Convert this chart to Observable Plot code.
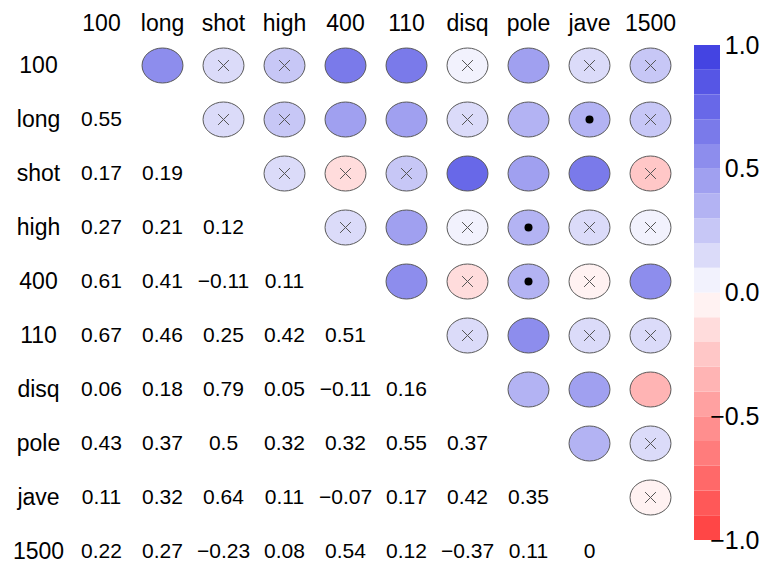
<!DOCTYPE html>
<html>
<head>
<meta charset="utf-8">
<script src="https://cdn.jsdelivr.net/npm/d3@7"></script>
<script src="https://cdn.jsdelivr.net/npm/@observablehq/plot@0.6"></script>
<style>
  body { margin: 0; background: #fff; }
  #chart { position: relative; width: 763px; height: 564px; }
  #chart svg { position: absolute; left: 0; top: 0; }
</style>
</head>
<body>
<div id="chart"></div>
<script>
// Decathlon events
const vars = ["100", "long", "shot", "high", "400", "110", "disq", "pole", "jave", "1500"];

// Correlations, lower triangle, row by row (row i holds its i values left of the diagonal)
const corrRows = [
  [],
  [0.55],
  [0.17, 0.19],
  [0.27, 0.21, 0.12],
  [0.61, 0.41, -0.11, 0.11],
  [0.67, 0.46, 0.25, 0.42, 0.51],
  [0.06, 0.18, 0.79, 0.05, -0.11, 0.16],
  [0.43, 0.37, 0.5, 0.32, 0.32, 0.55, 0.37],
  [0.11, 0.32, 0.64, 0.11, -0.07, 0.17, 0.42, 0.35],
  [0.22, 0.27, -0.23, 0.08, 0.54, 0.12, -0.37, 0.11, 0]
];

// Upper-triangle cells flagged as not significant
const insignificant = [
  ["100", "shot"], ["100", "high"], ["100", "disq"], ["100", "jave"], ["100", "1500"],
  ["long", "shot"], ["long", "high"], ["long", "disq"], ["long", "1500"],
  ["shot", "high"], ["shot", "400"], ["shot", "110"], ["shot", "1500"],
  ["high", "400"], ["high", "disq"], ["high", "jave"], ["high", "1500"],
  ["400", "disq"], ["400", "jave"],
  ["110", "disq"], ["110", "jave"], ["110", "1500"],
  ["pole", "1500"],
  ["jave", "1500"]
];

// Upper-triangle cells marked with a dot
const marked = [["long", "jave"], ["high", "pole"], ["400", "pole"]];

// Colour bar tick labels
const legendTicks = [1, 0.5, 0, -0.5, -1];

// 20-step red–white–blue palette, one colour per 0.1 interval of r
const nBins = 20;
const redEnd = "rgb(255,70,70)", blueEnd = "rgb(68,68,226)";
const palette = d3.range(nBins).map(k => {
  const t = k / (nBins - 1);
  const f = Math.abs(t - 0.5) / 0.5;          // distance from white
  return d3.interpolateRgb("white", t < 0.5 ? redEnd : blueEnd)(Math.pow(f, 0.9));
});
// interval (a, b] → palette index
const binOf = v => Math.max(0, Math.ceil((v + 1) * 10 - 1e-9) - 1);
const colorScale = {type: "ordinal", domain: d3.range(nBins), range: palette};

const fmt = v => String(v).replace("-", "\u2212");
const fmt1 = v => d3.format(".1f")(v).replace("-", "\u2212");

const corr = (a, b) => {
  const i = vars.indexOf(a), j = vars.indexOf(b);
  return i > j ? corrRows[i][j] : corrRows[j][i];
};

const upper = [], lower = [];
vars.forEach((rv, i) => vars.forEach((cv, j) => {
  if (j > i) upper.push({row: rv, col: cv, value: corr(rv, cv)});
  if (j < i) lower.push({row: rv, col: cv, value: corr(rv, cv)});
}));
const crossCells = insignificant.map(([row, col]) => ({row, col}));
const dotCells = marked.map(([row, col]) => ({row, col}));

// ellipse symbol: slightly wider than tall
const ellipse = {
  draw(ctx, size) {
    const ry = Math.sqrt(size / Math.PI), rx = ry * 1.17, k = 0.5523;
    ctx.moveTo(rx, 0);
    ctx.bezierCurveTo(rx, ry * k, rx * k, ry, 0, ry);
    ctx.bezierCurveTo(-rx * k, ry, -rx, ry * k, -rx, 0);
    ctx.bezierCurveTo(-rx, -ry * k, -rx * k, -ry, 0, -ry);
    ctx.bezierCurveTo(rx * k, -ry, rx, -ry * k, rx, 0);
    ctx.closePath();
  }
};

const font = "'Liberation Sans', Arial, Helvetica, sans-serif";

const matrix = Plot.plot({
  width: 763, height: 564, margin: 0,
  x: {type: "point", domain: vars, range: [99, 652], padding: 0, axis: null},
  y: {type: "point", domain: vars, range: [63.5, 553], padding: 0, axis: null},
  color: colorScale,
  style: {fontFamily: font, background: "white", color: "black"},
  marks: [
    Plot.dot(upper, {x: "col", y: "row", r: 17.5, symbol: ellipse,
      fill: d => binOf(d.value), stroke: "#5a5a5a", strokeWidth: 1}),
    Plot.dot(crossCells, {x: "col", y: "row", r: 5, symbol: "times",
      stroke: "#555", strokeWidth: 1}),
    Plot.dot(dotCells, {x: "col", y: "row", r: 4, fill: "black"}),
    Plot.text(lower, {x: "col", y: "row", text: d => fmt(d.value),
      fontSize: 21, fill: "black"}),
    Plot.text(vars, {x: d => d, frameAnchor: "top", lineAnchor: "middle", dy: 23,
      text: d => d, fontSize: 23, fill: "black"}),
    Plot.text(vars, {y: d => d, frameAnchor: "left", dx: 38, text: d => d,
      textAnchor: "middle", fontSize: 23, fill: "black"})
  ]
});

const bins = d3.range(nBins).map(k => ({index: k, lo: -1 + k * 0.1, hi: -1 + (k + 1) * 0.1}));

const colorbar = Plot.plot({
  width: 763, height: 564, margin: 0,
  x: {type: "linear", domain: [0, 1], range: [694, 720], axis: null},
  y: {type: "linear", domain: [-1, 1], range: [540, 45], axis: null},
  color: colorScale,
  style: {fontFamily: font, background: "none", color: "black"},
  marks: [
    Plot.rect(bins, {x1: 0, x2: 1, y1: "lo", y2: "hi", fill: "index"}),
    Plot.text(legendTicks, {x: 1, y: d => d, text: fmt1, textAnchor: "end",
      dx: 39, fontSize: 25, fill: "black"})
  ]
});

const chart = document.getElementById("chart");
chart.append(matrix, colorbar);
</script>
</body>
</html>
